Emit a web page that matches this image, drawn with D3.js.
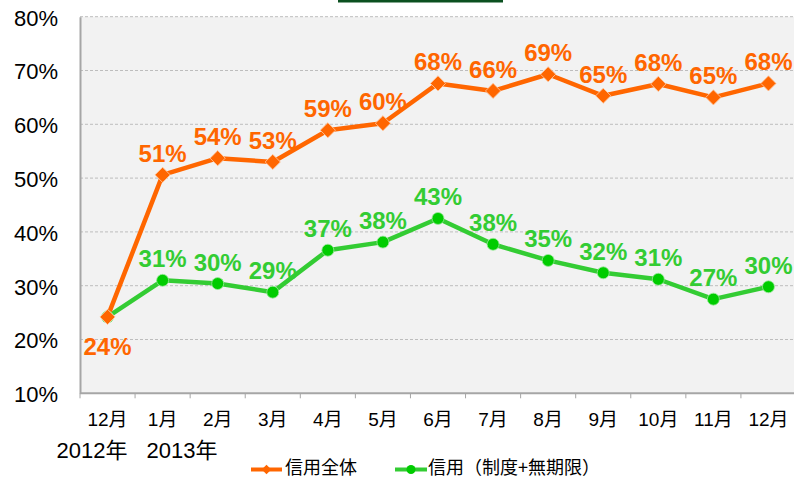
<!DOCTYPE html>
<html>
<head>
<meta charset="utf-8">
<script src="https://cdn.jsdelivr.net/npm/d3@7"></script>
<style>
  html, body { margin: 0; padding: 0; background: #fff; }
  svg { display: block; }
</style>
</head>
<body>
<svg id="chart" width="794" height="479"></svg>
<script>
const categories = ["12月","1月","2月","3月","4月","5月","6月","7月","8月","9月","10月","11月","12月"];
const yearLabels = ["2012年","2013年"];
const seriesNames = ["信用全体","信用（制度+無期限）"];
const totalValues = [24.2, 50.6, 53.7, 53.0, 58.9, 60.2, 67.6, 66.2, 69.3, 65.3, 67.5, 65.0, 67.6];
const totalLabels = ["24%","51%","54%","53%","59%","60%","68%","66%","69%","65%","68%","65%","68%"];
const marginValues = [24.2, 31.0, 30.4, 28.8, 36.6, 38.1, 42.5, 37.7, 34.7, 32.4, 31.2, 27.5, 29.8];
const marginLabels = ["", "31%","30%","29%","37%","38%","43%","38%","35%","32%","31%","27%","30%"];
const yTicks = [10, 20, 30, 40, 50, 60, 70, 80];

const ORANGE = "#FF6600", GREEN_LINE = "#33CC33", GREEN_MARK = "#00CC00";
const FONT = "'Liberation Sans', Arial, 'Noto Sans CJK JP', sans-serif";
const CJK = "'Noto Sans CJK JP', 'Liberation Sans', sans-serif";

const svg = d3.select("#chart");
const L = 80, R = 796, T = 16.7, B = 393.3;

const x = d3.scaleBand().domain(d3.range(categories.length)).range([L, R]).paddingInner(0).paddingOuter(0);
const y = d3.scaleLinear().domain([10, 80]).range([B, T]);
const cx = i => x(i) + x.bandwidth() / 2;

// top decoration line (cut-off title underline)
svg.append("rect").attr("x", 338).attr("y", 0).attr("width", 165).attr("height", 2.5).attr("fill", "#0B5020");

// plot area
svg.append("rect").attr("x", L).attr("y", T).attr("width", 794 - L).attr("height", B - T).attr("fill", "#F2F2F2");

// gridlines
svg.append("g").selectAll("line").data(yTicks.filter(t => t > 10)).join("line")
  .attr("x1", L).attr("x2", 794).attr("y1", d => y(d)).attr("y2", d => y(d))
  .attr("stroke", "#BDBDBD").attr("stroke-width", 1).attr("stroke-dasharray", "3,2");

// y axis
const yAxis = d3.axisLeft(y).tickValues(yTicks).tickFormat(d => d + "%").tickSize(0).tickPadding(22);
const gy = svg.append("g").attr("transform", `translate(${L},0)`).call(yAxis);
gy.select(".domain").attr("stroke", "#A6A6A6").attr("stroke-width", 2);
gy.selectAll("text").attr("font-family", FONT).attr("font-size", 22).attr("fill", "#000").attr("dy", "0.38em");

// x axis
const xAxis = d3.axisBottom(x).tickFormat(i => categories[i]).tickSize(0).tickPadding(19);
const gx = svg.append("g").attr("transform", `translate(0,${B})`).call(xAxis);
gx.select(".domain").attr("stroke", "#A6A6A6").attr("stroke-width", 2).attr("d", `M${L},0H794`);
gx.selectAll("text").attr("font-family", FONT).attr("font-size", 19).attr("fill", "#000");
// tick marks on band boundaries
svg.append("g").selectAll("line").data(d3.range(categories.length)).join("line")
  .attr("x1", i => x(i)).attr("x2", i => x(i)).attr("y1", B).attr("y2", B + 5)
  .attr("stroke", "#A6A6A6").attr("stroke-width", 1);

// year labels
svg.append("text").attr("x", cx(0) + 20).attr("y", 458).attr("text-anchor", "end")
  .attr("font-family", FONT).attr("font-size", 22).text(yearLabels[0]);
svg.append("text").attr("x", cx(1) - 16).attr("y", 458).attr("text-anchor", "start")
  .attr("font-family", FONT).attr("font-size", 22).text(yearLabels[1]);

// lines
const line = d3.line().x((d, i) => cx(i)).y(d => y(d));
svg.append("path").datum(marginValues).attr("d", line).attr("fill", "none")
  .attr("stroke", GREEN_LINE).attr("stroke-width", 4.5).attr("stroke-linejoin", "round");
svg.append("path").datum(totalValues).attr("d", line).attr("fill", "none")
  .attr("stroke", ORANGE).attr("stroke-width", 4.5).attr("stroke-linejoin", "round");

// markers
svg.append("g").selectAll("circle").data(marginValues).join("circle")
  .attr("cx", (d, i) => cx(i)).attr("cy", d => y(d)).attr("r", 6)
  .attr("fill", GREEN_MARK).attr("stroke", "#9CE89C").attr("stroke-width", 0.8);
svg.append("g").selectAll("path").data(totalValues).join("path")
  .attr("d", d3.symbol().type(d3.symbolSquare).size(115))
  .attr("transform", (d, i) => `translate(${cx(i)},${y(d)}) rotate(45)`)
  .attr("fill", ORANGE).attr("stroke", "#FFC8A0").attr("stroke-width", 0.8);

// data labels
svg.append("g").selectAll("text").data(totalValues).join("text")
  .attr("x", (d, i) => cx(i)).attr("y", (d, i) => i === 0 ? y(d) + 38 : y(d) - 13)
  .attr("text-anchor", "middle").attr("font-family", FONT).attr("font-weight", "bold")
  .attr("font-size", 24).attr("fill", ORANGE).text((d, i) => totalLabels[i]);
svg.append("g").selectAll("text").data(marginValues).join("text")
  .attr("x", (d, i) => cx(i)).attr("y", d => y(d) - 13)
  .attr("text-anchor", "middle").attr("font-family", FONT).attr("font-weight", "bold")
  .attr("font-size", 24).attr("fill", GREEN_LINE).text((d, i) => marginLabels[i]);

// legend
const lg = svg.append("g");
lg.append("line").attr("x1", 251).attr("x2", 282).attr("y1", 469.5).attr("y2", 469.5).attr("stroke", ORANGE).attr("stroke-width", 4);
lg.append("path").attr("d", d3.symbol().type(d3.symbolSquare).size(45)).attr("transform", "translate(266.5,469.5) rotate(45)").attr("fill", ORANGE);
lg.append("text").attr("x", 285).attr("y", 474).attr("font-family", CJK).attr("font-size", 18).text(seriesNames[0]);
lg.append("line").attr("x1", 395).attr("x2", 427).attr("y1", 469.5).attr("y2", 469.5).attr("stroke", GREEN_LINE).attr("stroke-width", 4);
lg.append("circle").attr("cx", 411).attr("cy", 469.5).attr("r", 4.5).attr("fill", GREEN_MARK);
lg.append("text").attr("x", 428).attr("y", 474).attr("font-family", CJK).attr("font-size", 18).text(seriesNames[1]);
</script>
</body>
</html>
